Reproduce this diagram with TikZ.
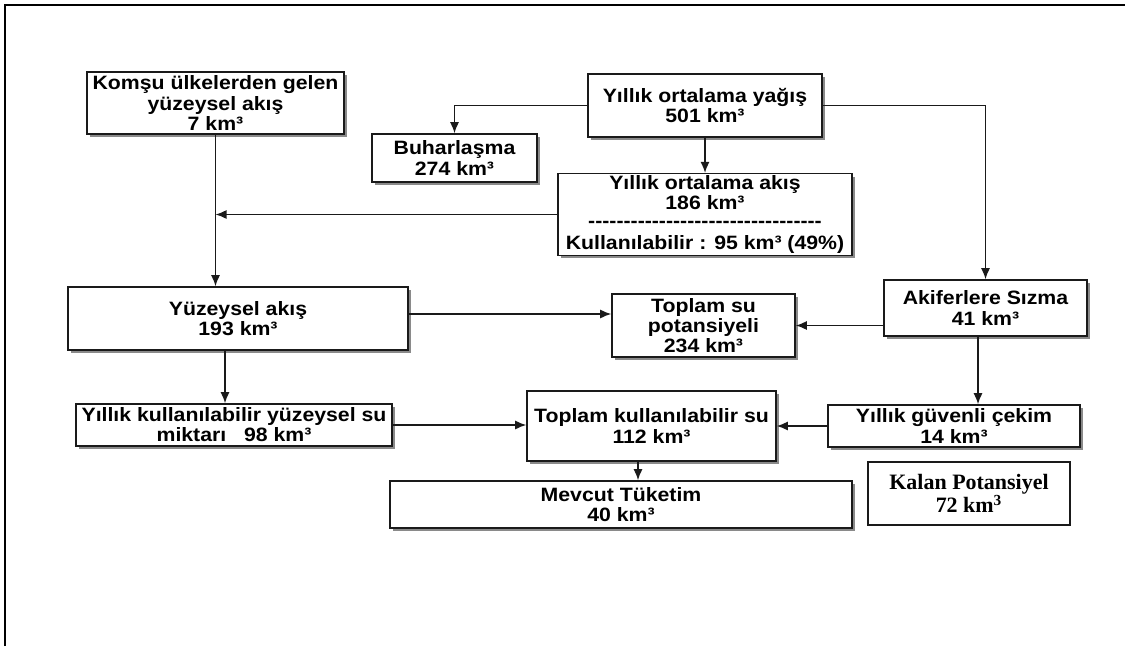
\documentclass[tikz,border=0pt]{standalone}
\usepackage{fontspec}
\usepackage{xcolor}
\usetikzlibrary{arrows.meta,calc,shadows}
\newfontfamily\boxfont{Liberation Sans}[FakeStretch=1.1]
\newfontfamily\kalanfont{Liberation Serif}
\definecolor{ink}{HTML}{1A1A1A}
\definecolor{shade}{HTML}{8A8A8A}
\tikzset{
  block/.style={draw=ink,line width=0.9pt,fill=white,align=center,inner sep=1pt,
    font=\boxfont\bfseries\fontsize{11}{11.4}\selectfont,
    drop shadow={shadow xshift=0.06cm,shadow yshift=-0.06cm,fill=shade,opacity=1}},
  plain/.style={draw=ink,line width=0.7pt,fill=white,align=center,inner sep=1pt,
    font=\kalanfont\bfseries\fontsize{12.5}{13.5}\selectfont},
  arr/.style={-{Latex[length=2.2mm,width=1.8mm]},line width=0.8pt,draw=ink}
}
\newcommand{\dashrow}{\foreach \i in {1,...,33}{-}}

\begin{document}
\begin{tikzpicture}[x=0.02cm,y=-0.02cm]
 \useasboundingbox (0,0) rectangle (1125,646);
 \draw[line width=1.7pt] (5,646) -- (5,5) -- (1125,5);
 % upper row
 \node[block,minimum width=5.14cm,minimum height=1.24cm] (komsu) at (215.5,103) {Komşu ülkelerden gelen\\yüzeysel akış\\7 km³};
 \node[block,minimum width=4.68cm,minimum height=1.26cm] (yagis) at (705,105.5) {Yıllık ortalama yağış\\501 km³};
 \node[block,minimum width=3.30cm,minimum height=0.96cm] (buhar) at (454.5,158) {Buharlaşma\\274 km³};
 \node[block,minimum width=5.88cm,minimum height=1.50cm] (akis) at (705,214.5) {Yıllık ortalama akış\\186 km³\\[-1pt]\dashrow\\[1pt]Kullanılabilir : 95 km³ (49\%)};
 % middle row
 \node[block,minimum width=6.80cm,minimum height=1.26cm] (yuzey) at (238,318.5) {Yüzeysel akış\\193 km³};
 \node[block,minimum width=3.66cm,minimum height=1.26cm] (topsu) at (703.5,325.5) {Toplam su\\potansiyeli\\234 km³};
 \node[block,minimum width=4.06cm,minimum height=1.12cm] (akifer) at (985.5,308) {Akiferlere Sızma\\41 km³};
 % lower rows
 \node[block,minimum width=6.32cm,minimum height=0.84cm] (kullyuz) at (234,425) {Yıllık kullanılabilir yüzeysel su\\miktarı \ \ 98 km³};
 \node[block,minimum width=4.98cm,minimum height=1.40cm] (topkull) at (651.5,426) {Toplam kullanılabilir su\\112 km³};
 \node[block,minimum width=5.04cm,minimum height=0.84cm] (guvenli) at (954,426) {Yıllık güvenli çekim\\14 km³};
 \node[block,minimum width=9.24cm,minimum height=0.94cm] (mevcut) at (621,504.5) {Mevcut Tüketim\\40 km³};
 \node[plain,minimum width=4.04cm,minimum height=1.26cm] (kalan) at (969,493.5) {Kalan Potansiyel\\72 km\textsuperscript{3}};
 % connectors
 \coordinate (join) at (akis.west -| komsu.south);
 \coordinate (ysplit) at ([xshift=-0.26cm]yuzey.south);
 \coordinate (asplit) at ([xshift=-0.15cm]akifer.south);
 \coordinate (tsplit) at ([xshift=-0.27cm]topkull.south);
 \draw[arr] (komsu.south) -- (komsu.south |- yuzey.north); \draw[arr] (akis.west) -- (join);
 \draw[arr] (yagis.west) -| (buhar.north); \draw[arr] (yagis.south) -- (akis.north); \draw[arr] (yagis.east) -| (akifer.north);
 \draw[arr] ([yshift=0.09cm]yuzey.east) -- ([yshift=0.09cm]yuzey.east -| topsu.west); \draw[arr] (akifer.west |- topsu.east) -- (topsu.east);
 \draw[arr] (ysplit) -- (ysplit |- kullyuz.north); \draw[arr] (asplit) -- (asplit |- guvenli.north);
 \draw[arr] (kullyuz.east) -- (kullyuz.east -| topkull.west); \draw[arr] (guvenli.west) -- (guvenli.west -| topkull.east);
 \draw[arr] (tsplit) -- (tsplit |- mevcut.north);
\end{tikzpicture}
\end{document}
